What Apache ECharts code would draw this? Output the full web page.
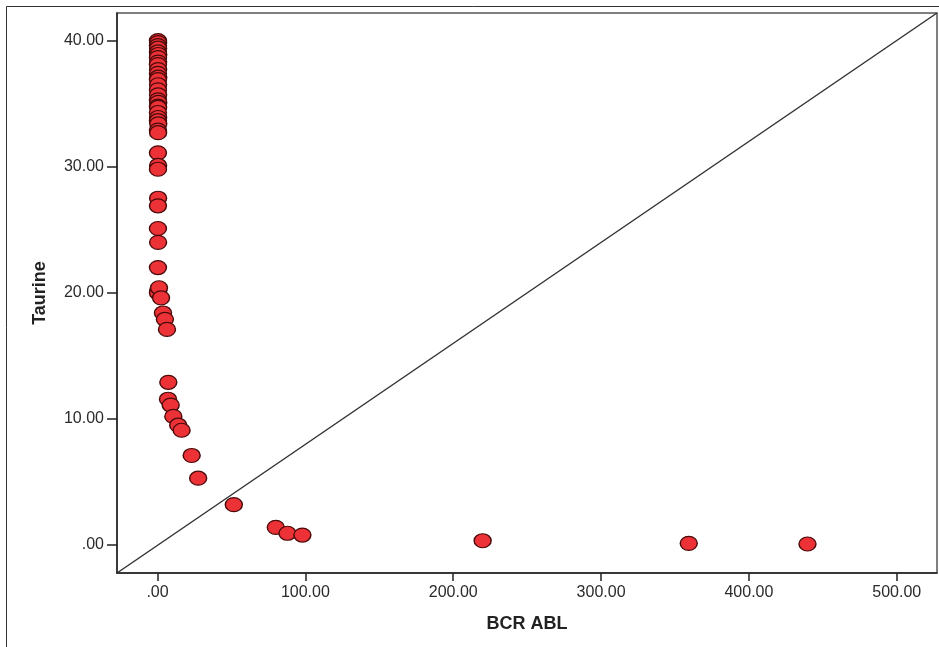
<!DOCTYPE html>
<html><head><meta charset="utf-8">
<script src="https://cdn.jsdelivr.net/npm/echarts@6/dist/echarts.min.js"></script>
<style>html,body{margin:0;padding:0;background:#fff}#c{width:939px;height:647px}</style>
</head><body><div id="c"></div>
<script>
const xName = "BCR ABL";
const yName = "Taurine";
const xTicks = [0, 100, 200, 300, 400, 500];
const yTicks = [0, 10, 20, 30, 40];
const xRange = [-27.4, 527.2];
const yRange = [-2.22, 42.19];
const bcrAbl = [0.3,0.4,0.3,0.4,0.3,0.5,0.3,0.4,0.3,0.4,0.3,0.5,0.3,0.4,0.3,0.4,0.3,0.5,0.3,0.4,0.3,0.4,0.3,0.5,0.3,0.4,0.3,0.4,0.3,0.4,0.3,0.3,0.4,0.3,0.5,0.3,1.0,2.4,3.7,5.0,6.4,7.3,7.1,8.9,10.7,14.0,16.3,23.1,27.5,51.6,80.0,87.9,98.0,219.9,359.3,439.6];
const taurine = [40.0,39.84,39.6,39.4,39.1,38.9,38.65,38.3,38.1,37.7,37.4,37.1,36.9,36.5,36.1,35.7,35.3,35.1,34.8,34.7,34.3,33.9,33.65,33.4,32.9,32.7,31.1,30.1,29.8,27.5,26.9,25.1,24.0,22.0,20.2,20.0,20.4,19.6,18.4,17.9,17.1,12.9,11.56,11.1,10.2,9.5,9.1,7.1,5.3,3.2,1.4,0.93,0.79,0.34,0.13,0.08];

const pts = bcrAbl.map((x, i) => [x, taurine[i]]);
const fmt = v => v === 0 ? '.00' : v.toFixed(2);
const font = 'Liberation Sans, Arial, sans-serif';

const chart = echarts.init(document.getElementById('c'), null, {renderer: 'canvas'});
chart.setOption({
  animation: false,
  backgroundColor: '#fff',
  graphic: [{
    type: 'rect', silent: true, z: -10,
    shape: {x: 6.5, y: 6.5, width: 945, height: 660},
    style: {fill: 'none', stroke: '#333', lineWidth: 1}
  }],
  grid: {left: 117, right: 2, top: 13, bottom: 74, show: true, borderColor: '#555', borderWidth: 1.5, backgroundColor: '#fff'},
  xAxis: {
    type: 'value', min: xRange[0], max: xRange[1],
    name: xName, nameLocation: 'middle', nameGap: 42,
    nameTextStyle: {fontFamily: font, fontSize: 18, fontWeight: 'bold', color: '#222'},
    axisLine: {show: true, onZero: false, lineStyle: {color: '#222', width: 1.5}},
    axisTick: {show: true, length: 8, customValues: xTicks, lineStyle: {color: '#222', width: 1.5}},
    axisLabel: {customValues: xTicks, formatter: fmt, fontFamily: font, fontSize: 16, color: '#2a2a2a', margin: 12},
    splitLine: {show: false}
  },
  yAxis: {
    type: 'value', min: yRange[0], max: yRange[1],
    name: yName, nameLocation: 'middle', nameGap: 68, nameRotate: 90,
    nameTextStyle: {fontFamily: font, fontSize: 18, fontWeight: 'bold', color: '#222'},
    axisLine: {show: true, onZero: false, lineStyle: {color: '#222', width: 1.5}},
    axisTick: {show: true, length: 10, customValues: yTicks, lineStyle: {color: '#222', width: 1.5}},
    axisLabel: {customValues: yTicks, formatter: fmt, fontFamily: font, fontSize: 16, color: '#2a2a2a', margin: 13},
    splitLine: {show: false}
  },
  series: [
    {
      type: 'line', data: [[xRange[0], yRange[0]], [xRange[1], yRange[1]]],
      symbol: 'none', silent: true, z: 1,
      lineStyle: {color: '#333', width: 1.5}
    },
    {
      type: 'scatter', data: pts, symbol: 'circle', symbolSize: [17, 14], z: 2,
      itemStyle: {color: '#ec3236', borderColor: '#4a0a0a', borderWidth: 1.3, opacity: 1}
    }
  ]
});
</script></body></html>
